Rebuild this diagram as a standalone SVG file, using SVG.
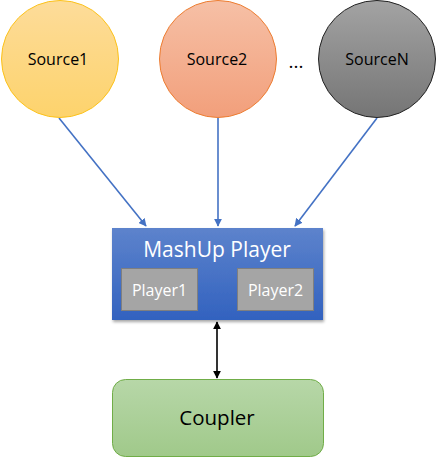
<svg xmlns="http://www.w3.org/2000/svg" width="437" height="458" viewBox="0 0 437 458">
<style>
.t{font-family:"Open Sans","Liberation Sans",sans-serif;text-anchor:middle}
.blue{stroke:#4472c4;stroke-width:1.6;fill:none}
</style>
<defs>
<linearGradient id="g1" x1="0" y1="0" x2="0" y2="1"><stop offset="0" stop-color="#fddc9a"/><stop offset="1" stop-color="#fdd36c"/></linearGradient>
<linearGradient id="g2" x1="0" y1="0" x2="0" y2="1"><stop offset="0" stop-color="#f6c0a6"/><stop offset="1" stop-color="#f29f7b"/></linearGradient>
<linearGradient id="g3" x1="0" y1="0" x2="0" y2="1"><stop offset="0" stop-color="#a3a3a3"/><stop offset="1" stop-color="#757575"/></linearGradient>
<linearGradient id="gb" x1="0" y1="0" x2="0" y2="1"><stop offset="0" stop-color="#5d83cc"/><stop offset="1" stop-color="#3262bf"/></linearGradient>
<linearGradient id="gg" x1="0" y1="0" x2="0" y2="1"><stop offset="0" stop-color="#b7d7a8"/><stop offset="1" stop-color="#a0c98a"/></linearGradient>
<marker id="ab" viewBox="0 0 10 10" refX="9" refY="5" markerWidth="8" markerHeight="8" markerUnits="userSpaceOnUse" orient="auto"><path d="M0,0 L10,5 L0,10 z" fill="#4472c4"/></marker>
<marker id="ak" viewBox="0 0 10 10" refX="9" refY="5" markerWidth="8" markerHeight="8" markerUnits="userSpaceOnUse" orient="auto-start-reverse"><path d="M0,0 L10,5 L0,10 z" fill="#000"/></marker>
<filter id="sh" x="-10%" y="-10%" width="120%" height="130%"><feDropShadow dx="1" dy="2" stdDeviation="1.5" flood-color="#000" flood-opacity="0.35"/></filter>
</defs>
<g id="connectors">
<line class="blue" x1="59" y1="118" x2="146" y2="226" marker-end="url(#ab)"/>
<line class="blue" x1="218" y1="118" x2="218" y2="226" marker-end="url(#ab)"/>
<line class="blue" x1="377" y1="118" x2="295" y2="226" marker-end="url(#ab)"/>
<line x1="217" y1="322" x2="217" y2="378" stroke="#000" stroke-width="1.6" marker-start="url(#ak)" marker-end="url(#ak)"/>
</g>
<g id="source1">
<circle cx="60" cy="59" r="58.5" fill="url(#g1)" stroke="#fcc21b" stroke-width="1"/>
<text class="t" x="58" y="65" font-size="16">Source1</text>
</g>
<g id="source2">
<circle cx="218" cy="59" r="58.5" fill="url(#g2)" stroke="#ed7d31" stroke-width="1"/>
<text class="t" x="217" y="65" font-size="16">Source2</text>
</g>
<g id="dots"><text class="t" x="296" y="68" font-size="19">...</text></g>
<g id="sourceN">
<circle cx="377" cy="59" r="58.5" fill="url(#g3)" stroke="#222" stroke-width="1"/>
<text class="t" x="377" y="65" font-size="16">SourceN</text>
</g>
<g id="mashup">
<rect x="112" y="228" width="211" height="92" fill="url(#gb)" filter="url(#sh)"/>
<text class="t" x="217" y="257" font-size="21" fill="#fff">MashUp Player</text>
</g>
<g id="player1">
<rect x="121.5" y="268.5" width="76" height="42" fill="#a5a5a5" stroke="#7f7f7f"/>
<text class="t" x="159.5" y="296" font-size="16" fill="#fff">Player1</text>
</g>
<g id="player2">
<rect x="237.5" y="268.5" width="76" height="42" fill="#a5a5a5" stroke="#7f7f7f"/>
<text class="t" x="275.5" y="296" font-size="16" fill="#fff">Player2</text>
</g>
<g id="coupler">
<rect x="112.5" y="379.5" width="211" height="77" rx="13" fill="url(#gg)" stroke="#70ad47"/>
<text class="t" x="217" y="425" font-size="20.5">Coupler</text>
</g>
</svg>
